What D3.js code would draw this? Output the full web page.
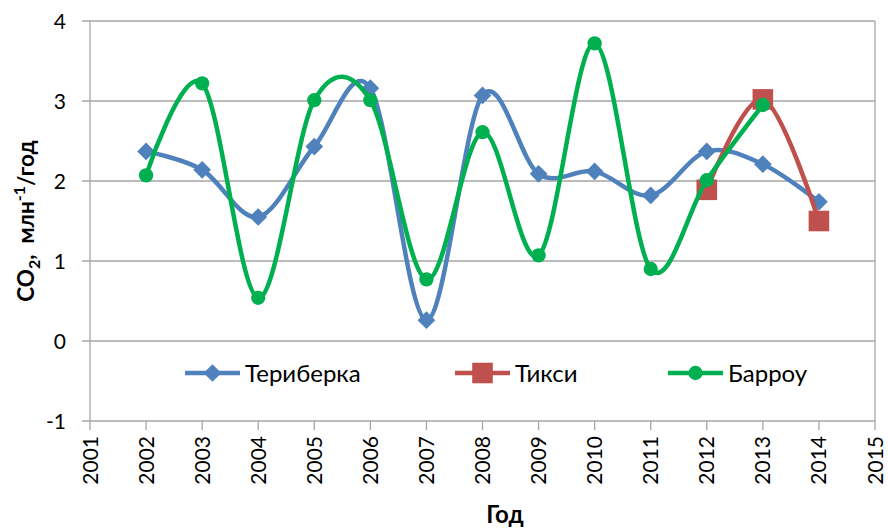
<!DOCTYPE html>
<html><head><meta charset="utf-8">
<script src="https://cdn.jsdelivr.net/npm/d3@7"></script>
<style>body{margin:0;background:#fff}svg{display:block}text{font-family:Lato,"Open Sans",sans-serif;white-space:pre}</style>
</head><body>
<svg id="c" width="888" height="528"></svg>
<script>
const years = [2002,2003,2004,2005,2006,2007,2008,2009,2010,2011,2012,2013,2014];
const teriberka = [2.37,2.14,1.55,2.43,3.16,0.26,3.07,2.09,2.12,1.82,2.37,2.21,1.74];
const tiksiYears = [2012,2013,2014];
const tiksi = [1.89,3.02,1.5];
const barrowYears = [2002,2003,2004,2005,2006,2007,2008,2009,2010,2011,2012,2013];
const barrow = [2.07,3.22,0.54,3.01,3.01,0.77,2.61,1.07,3.72,0.9,2.01,2.95];
const xTicks = d3.range(2001,2016);
const yTicks = [-1,0,1,2,3,4];
const seriesNames = ["Териберка","Тикси","Барроу"];

const svg = d3.select("#c");
const x = d3.scaleLinear().domain([2001,2015]).range([90,875]);
const y = d3.scaleLinear().domain([-1,4]).range([421,21]);
const grid = "#a6a6a6";

svg.append("g").selectAll("line").data(yTicks).join("line")
  .attr("x1",82).attr("x2",875).attr("y1",d=>y(d)).attr("y2",d=>y(d))
  .attr("stroke",grid).attr("stroke-width",1.3);
svg.append("line").attr("x1",90).attr("x2",90).attr("y1",y(4)).attr("y2",y(-1)).attr("stroke",grid).attr("stroke-width",1.3);
svg.append("line").attr("x1",875).attr("x2",875).attr("y1",y(4)).attr("y2",y(-1)).attr("stroke",grid).attr("stroke-width",1.3);
svg.append("g").selectAll("line").data(xTicks).join("line")
  .attr("x1",d=>x(d)).attr("x2",d=>x(d)).attr("y1",y(-1)).attr("y2",y(-1)+9)
  .attr("stroke",grid).attr("stroke-width",1.3);
svg.append("g").selectAll("text").data(yTicks).join("text")
  .attr("x",66).attr("y",d=>y(d)).attr("dy","0.36em").attr("text-anchor","end")
  .attr("font-size",21).attr("fill","#000").text(d=>d);
svg.append("g").selectAll("text").data(xTicks).join("text")
  .attr("transform",d=>`translate(${x(d)},${y(-1)+15}) rotate(-90)`)
  .attr("text-anchor","end").attr("dy","0.36em")
  .attr("font-size",21).attr("fill","#000").text(d=>d);
svg.append("text").attr("x",505).attr("y",523).attr("text-anchor","middle")
  .attr("font-size",24).attr("font-weight","bold").text("Год");
const yt = svg.append("text").attr("transform","translate(34,221) rotate(-90)")
  .attr("text-anchor","middle").attr("font-size",22.5).attr("font-weight","bold");
yt.append("tspan").text("CO");
yt.append("tspan").attr("font-size",16).attr("dy",6).text("2");
yt.append("tspan").attr("dy",-6).text(",\u00a0 млн");
yt.append("tspan").attr("font-size",16).attr("dy",-9).text("-1");
yt.append("tspan").attr("dy",9).text("/год");

const line = d3.line().x(d=>x(d[0])).y(d=>y(d[1])).curve(d3.curveCatmullRom.alpha(0));
const sym = (type,size)=>d3.symbol().type(type).size(size)();

const cfg = [
  {xs:years, ys:teriberka, color:"#4f81bd", marker:sym(d3.symbolDiamond2,200), lx:185},
  {xs:tiksiYears, ys:tiksi, color:"#c0504d", marker:sym(d3.symbolSquare2,540), lx:455},
  {xs:barrowYears, ys:barrow, color:"#00b050", marker:sym(d3.symbolCircle,160), lx:668}
];
cfg.forEach((c,i)=>{
  const pts = c.xs.map((v,j)=>[v,c.ys[j]]);
  const g = svg.append("g");
  g.append("path").attr("d",line(pts)).attr("fill","none").attr("stroke",c.color).attr("stroke-width",4.5);
  g.selectAll("path.m").data(pts).join("path").attr("class","m")
    .attr("transform",d=>`translate(${x(d[0])},${y(d[1])})`)
    .attr("d",c.marker).attr("fill",c.color);
  const ly = 373;
  const lg = svg.append("g");
  lg.append("line").attr("x1",c.lx).attr("x2",c.lx+55).attr("y1",ly).attr("y2",ly).attr("stroke",c.color).attr("stroke-width",4.5);
  lg.append("path").attr("transform",`translate(${c.lx+27.5},${ly})`).attr("d",c.marker).attr("fill",c.color);
  lg.append("text").attr("x",c.lx+60).attr("y",ly).attr("dy","0.36em").attr("font-size",24).text(seriesNames[i]);
});
</script>
</body></html>
